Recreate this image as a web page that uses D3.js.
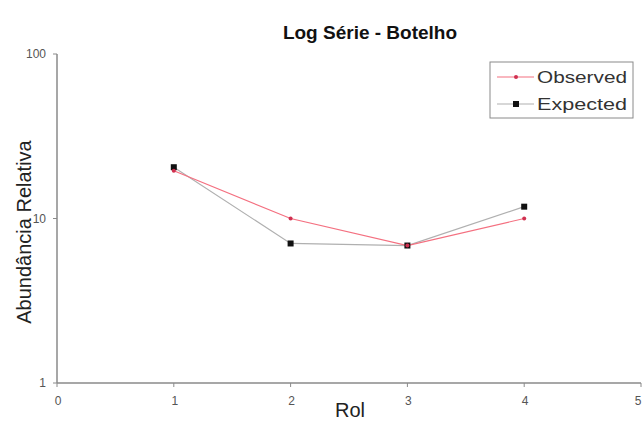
<!DOCTYPE html>
<html>
<head>
<meta charset="utf-8">
<script src="https://cdn.jsdelivr.net/npm/d3@7"></script>
<style>
  body { margin: 0; background: #fff; }
  text { font-family: "Liberation Sans", Arial, sans-serif; }
</style>
</head>
<body>
<svg id="chart" width="644" height="421"></svg>
<script>
var ranks = [1, 2, 3, 4];
var observed = [19.5, 10, 6.85, 10];
var expected = [20.5, 7.05, 6.85, 11.8];
var xTicks = [0, 1, 2, 3, 4, 5];
var yTicks = [1, 10, 100];

var svg = d3.select("#chart");

var x = d3.scaleLinear().domain([0, 5]).range([57, 641]);
var y = d3.scaleLog().domain([1, 100]).range([383, 54]);

// axes
svg.append("line")
    .attr("x1", x(0)).attr("x2", x(0))
    .attr("y1", y(100)).attr("y2", y(1))
    .attr("stroke", "#8a8a8a").attr("stroke-width", 1.5);
svg.append("line")
    .attr("x1", x(0)).attr("x2", x(5))
    .attr("y1", y(1)).attr("y2", y(1))
    .attr("stroke", "#8a8a8a").attr("stroke-width", 1.5);

svg.selectAll(".ytick")
    .data(yTicks)
    .enter().append("line")
    .attr("x1", x(0) - 4).attr("x2", x(0))
    .attr("y1", d => y(d)).attr("y2", d => y(d))
    .attr("stroke", "#8a8a8a");

svg.selectAll(".ylab")
    .data(yTicks)
    .enter().append("text")
    .attr("x", x(0) - 11)
    .attr("y", d => y(d) + 4)
    .attr("text-anchor", "end")
    .attr("font-size", "12px")
    .attr("fill", "#555")
    .text(d => d);

svg.selectAll(".xtick")
    .data(xTicks)
    .enter().append("line")
    .attr("x1", d => x(d)).attr("x2", d => x(d))
    .attr("y1", y(1)).attr("y2", y(1) + 4)
    .attr("stroke", "#8a8a8a");

svg.selectAll(".xlab")
    .data(xTicks)
    .enter().append("text")
    .attr("x", d => x(d) + (d === 5 ? -3 : 1))
    .attr("y", y(1) + 22)
    .attr("text-anchor", "middle")
    .attr("font-size", "12px")
    .attr("fill", "#555")
    .text(d => d);

// titles
svg.append("text")
    .attr("x", 370).attr("y", 39)
    .attr("text-anchor", "middle")
    .attr("font-size", "19px")
    .attr("font-weight", "bold")
    .attr("fill", "#111")
    .text("Log Série - Botelho");

svg.append("text")
    .attr("x", 350).attr("y", 417)
    .attr("text-anchor", "middle")
    .attr("font-size", "20px")
    .attr("fill", "#222")
    .text("Rol");

svg.append("text")
    .attr("transform", "translate(31,232) rotate(-90)")
    .attr("text-anchor", "middle")
    .attr("font-size", "20px")
    .attr("fill", "#222")
    .text("Abundância Relativa");

// series
var line = d3.line()
    .x((d, i) => x(ranks[i]))
    .y(d => y(d));

svg.append("path")
    .datum(expected)
    .attr("d", line)
    .attr("fill", "none")
    .attr("stroke", "#b0b0b0")
    .attr("stroke-width", 1.2);

svg.append("path")
    .datum(observed)
    .attr("d", line)
    .attr("fill", "none")
    .attr("stroke", "#f47080")
    .attr("stroke-width", 1.2);

svg.selectAll(".exp")
    .data(expected)
    .enter().append("rect")
    .attr("x", (d, i) => x(ranks[i]) - 3)
    .attr("y", d => y(d) - 3)
    .attr("width", 6).attr("height", 6)
    .attr("fill", "#111");

svg.selectAll(".obs")
    .data(observed)
    .enter().append("circle")
    .attr("cx", (d, i) => x(ranks[i]))
    .attr("cy", d => y(d))
    .attr("r", 2)
    .attr("fill", "#d03050");

// legend
var legend = svg.append("g").attr("transform", "translate(490,62)");
legend.append("rect")
    .attr("width", 143).attr("height", 56)
    .attr("fill", "#fff")
    .attr("stroke", "#8a8a8a");

var legendItems = [
    { name: "Observed", color: "#f47080", marker: "circle" },
    { name: "Expected", color: "#b0b0b0", marker: "square" }
];

legendItems.forEach(function(item, i) {
    var g = legend.append("g").attr("transform", "translate(0," + (15 + i * 27) + ")");
    g.append("line")
        .attr("x1", 7).attr("x2", 44)
        .attr("stroke", item.color).attr("stroke-width", 1.2);
    if (item.marker === "circle") {
        g.append("circle").attr("cx", 26).attr("r", 2).attr("fill", "#d03050");
    } else {
        g.append("rect").attr("x", 23).attr("y", -3).attr("width", 6).attr("height", 6).attr("fill", "#111");
    }
    g.append("text")
        .attr("x", 47).attr("y", 6)
        .attr("font-size", "17px")
        .attr("fill", "#333")
        .attr("textLength", 90)
        .attr("lengthAdjust", "spacingAndGlyphs")
        .text(item.name);
});
</script>
</body>
</html>
